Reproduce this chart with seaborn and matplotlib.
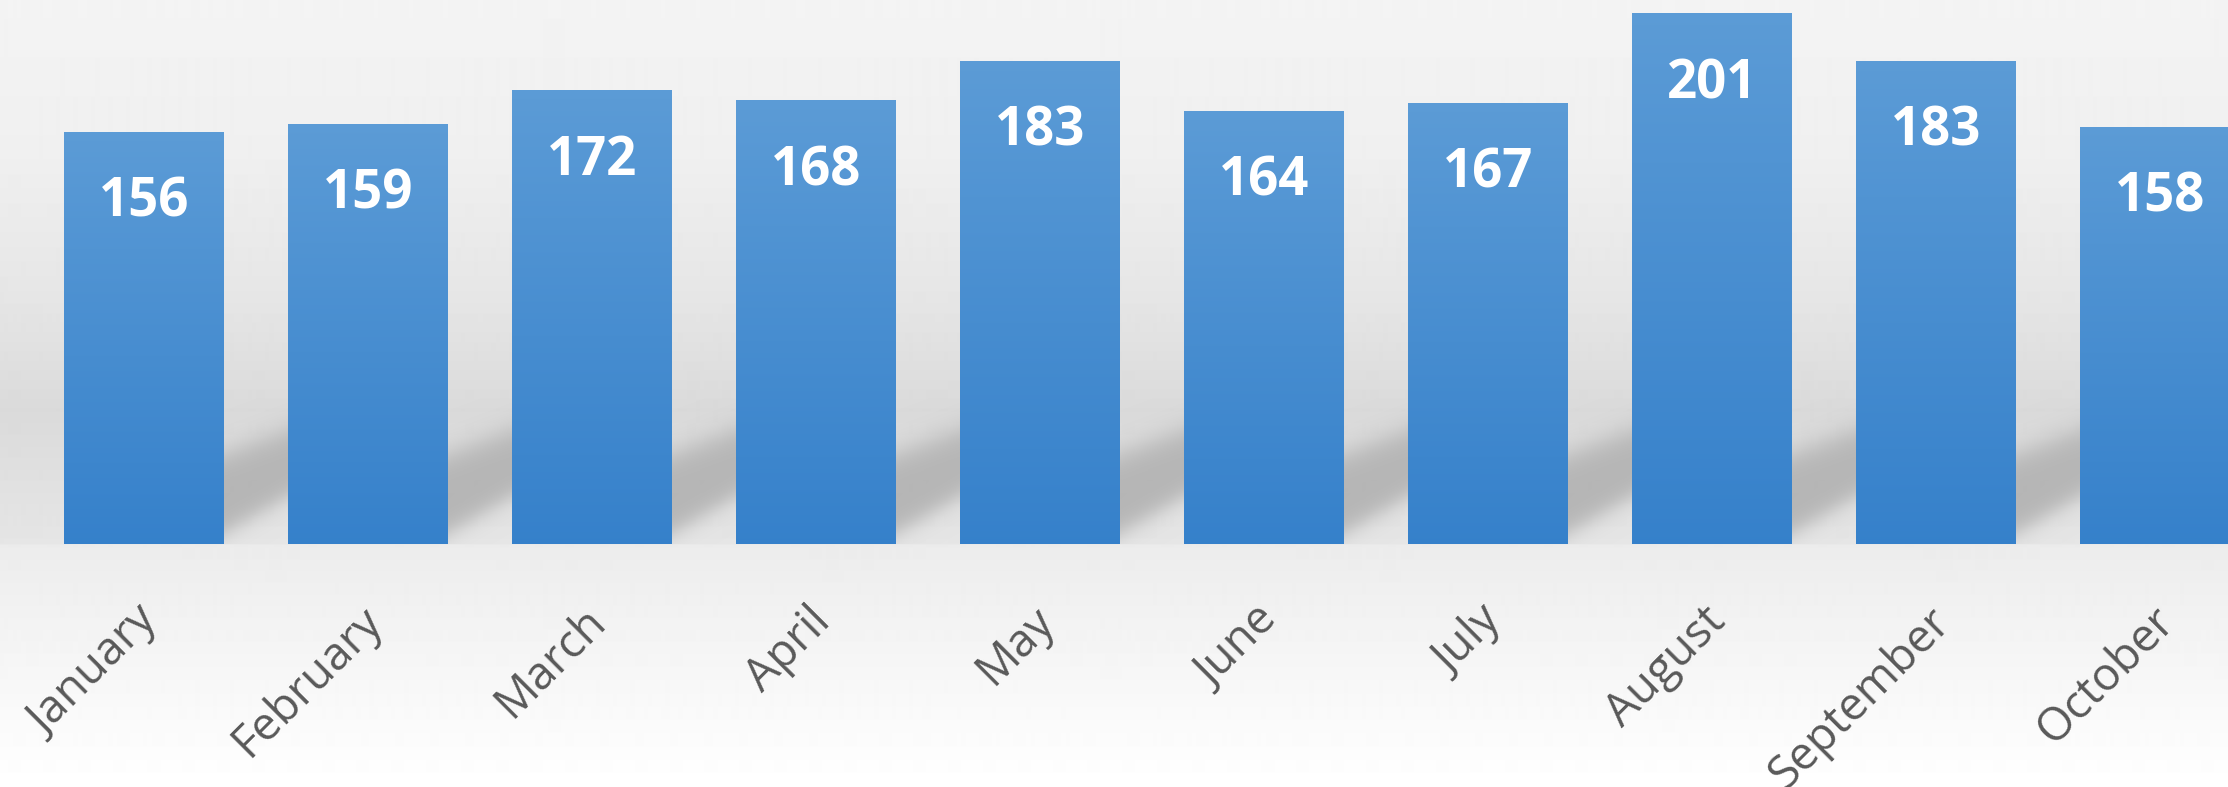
import matplotlib
matplotlib.use("Agg")
import matplotlib.pyplot as plt
from matplotlib.transforms import ScaledTranslation
import numpy as np
import seaborn as sns

# chart data
months = ["January", "February", "March", "April", "May",
          "June", "July", "August", "September", "October"]
counts = [156, 159, 172, 168, 183, 164, 167, 201, 183, 158]

W, H, DPI = 2228, 787, 100
BASE = 544  # pixel row of the bar baseline

sns.set_theme(style="white")
plt.rcParams["font.family"] = ["Open Sans", "DejaVu Sans"]

fig = plt.figure(figsize=(W / DPI, H / DPI), dpi=DPI)

# grey gradient backdrop over the whole figure
bg = fig.add_axes([0, 0, 1, 1], zorder=-2)
rows = np.arange(H)
shade = np.interp(rows, [0, 150, 300, 410, 543, 545, 650, 786],
                  [0.955, 0.94, 0.90, 0.855, 0.90, 0.925, 0.96, 1.0])
bg.imshow(np.repeat(shade[:, None], 2, axis=1), cmap="gray", vmin=0, vmax=1,
          aspect="auto", extent=[0, 1, 1, 0], interpolation="bilinear")
bg.set_axis_off()

ax = fig.add_axes([0, 1 - BASE / H, 1, BASE / H])
ax.patch.set_alpha(0)

sns.barplot(x=months, y=counts, ax=ax, width=0.71, color="#4a8fd3",
            saturation=1, zorder=3)

# vertical blue gradient on each bar
top_c = np.array([0.36, 0.61, 0.84])
bot_c = np.array([0.21, 0.505, 0.795])
grad = np.linspace(0, 1, 256)[:, None, None]
bar_img = top_c * (1 - grad) + bot_c * grad

# soft shadow cast to the right of each bar
u = np.linspace(0, 1, 120)[None, :]
v = np.linspace(0, 55, 200)[:, None]
lower = 4 + 14 * u
upper = 34 + 9 * u
alpha = 1 / (1 + np.exp(-(v - lower) / 2.5)) * 1 / (1 + np.exp(-(upper - v) / 3.0))
shadow = np.zeros((200, 120, 4))
shadow[..., :3] = 0.705
shadow[..., 3] = alpha * 0.95

for p in ax.patches:
    x0, w, h = p.get_x(), p.get_width(), p.get_height()
    im = ax.imshow(bar_img, extent=[x0, x0 + w, 0, h], aspect="auto",
                   origin="upper", zorder=3, interpolation="bilinear")
    im.set_clip_path(p)
    gap = 1 - w
    ax.imshow(shadow, extent=[x0 + w, x0 + w + gap, 0, 55], aspect="auto",
              origin="lower", zorder=1, interpolation="bilinear")
    p.set_facecolor("none")
    p.set_edgecolor("none")

for i, c in enumerate(counts):
    ax.annotate(str(c), (i, c), xytext=(0, -51), textcoords="offset points",
                ha="center", va="center", color="white", fontsize=38,
                fontweight="bold", zorder=5)

ax.set_xlim(-144 / 224, (W - 144) / 224)
ax.set_ylim(0, 206)
ax.set_yticks([])
ax.set_xlabel("")
ax.set_ylabel("")
for s in ax.spines.values():
    s.set_visible(False)

ax.tick_params(axis="x", length=0, pad=39, labelsize=33, labelcolor="#595959")
ax.set_xticks(range(len(months)))
ax.set_xticklabels(months, rotation=45, ha="right", rotation_mode="anchor")
shift = ScaledTranslation(-9 / DPI, 0, fig.dpi_scale_trans)
for lab in ax.get_xticklabels():
    lab.set_transform(lab.get_transform() + shift)

fig.savefig("out.png", dpi=DPI)
